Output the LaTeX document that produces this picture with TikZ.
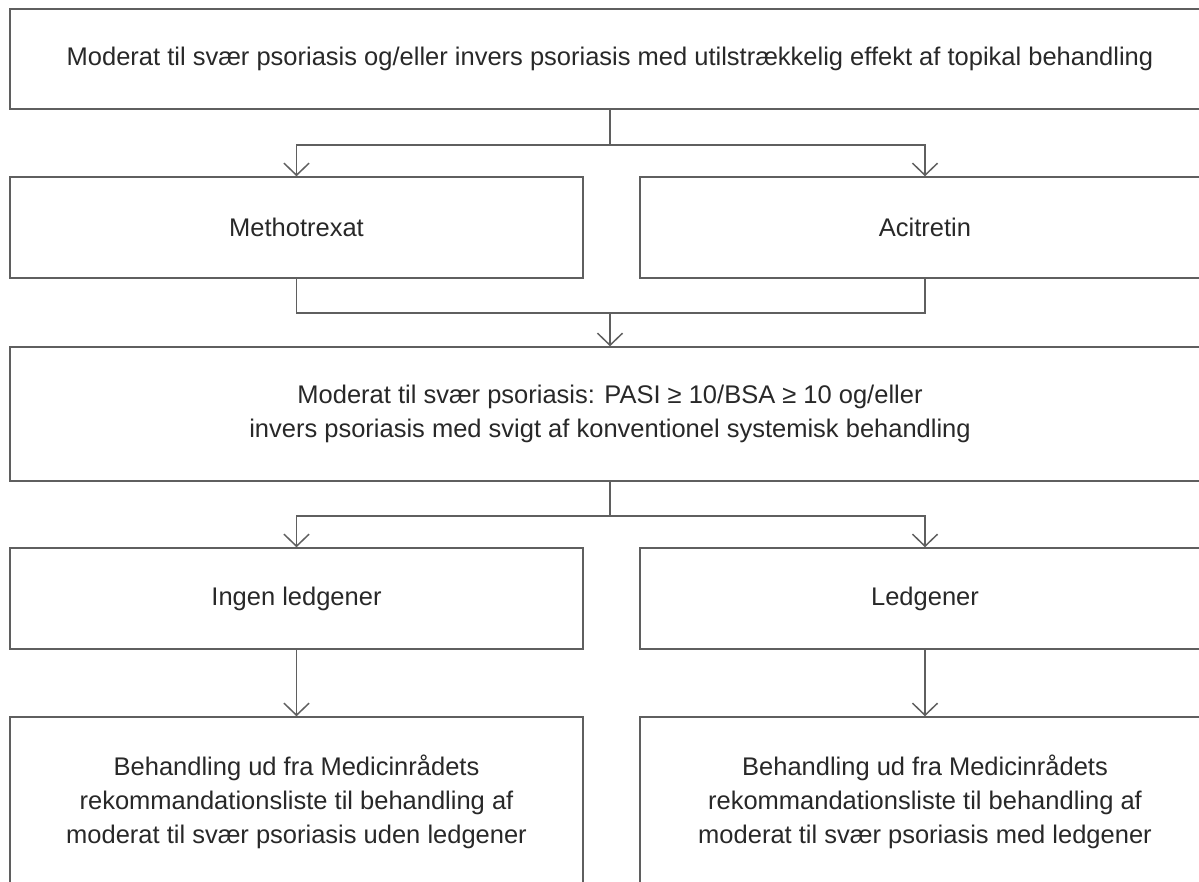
\documentclass[tikz,border=0pt]{standalone}
\usepackage{fontspec}
\setmainfont{Liberation Sans}
\usetikzlibrary{arrows.meta}
\definecolor{ln}{RGB}{95,95,95}
\definecolor{tx}{RGB}{40,40,40}
\tikzset{
  box/.style={draw=ln, line width=1.5pt, rectangle, inner sep=0pt, align=center,
    text=tx, font=\fontsize{25.5}{34}\selectfont},
  conn/.style={draw=ln, line width=1.5pt},
  arr/.style={conn, -{Straight Barb[length=12pt,width=25pt]}}
}
\begin{document}
\begin{tikzpicture}[x=1pt,y=-1pt]
\useasboundingbox (0,0) rectangle (1199,881);
\clip (0,0) rectangle (1199,881);
\node[box, minimum width=1200pt, minimum height=100pt] (top) at (610,59)
  {Moderat til svær psoriasis og/eller invers psoriasis med utilstrækkelig effekt af topikal behandling};
\node[box, minimum width=573pt, minimum height=101pt] (meth) at (296.5,227.5) {Methotrexat};
\node[box, minimum width=570pt, minimum height=101pt] (aci) at (925,227.5) {Acitretin};
\node[box, minimum width=1200pt, minimum height=134pt] (mid) at (610,414)
  {Moderat til svær psoriasis: PASI ≥ 10/BSA ≥ 10 og/eller\\invers psoriasis med svigt af konventionel systemisk behandling};
\node[box, minimum width=573pt, minimum height=101pt] (ingen) at (296.5,598.5) {Ingen ledgener};
\node[box, minimum width=570pt, minimum height=101pt] (led) at (925,598.5) {Ledgener};
\node[box, minimum width=573pt, minimum height=170pt] (bl) at (296.5,802)
  {Behandling ud fra Medicinrådets\\rekommandationsliste til behandling af\\moderat til svær psoriasis uden ledgener};
\node[box, minimum width=570pt, minimum height=170pt] (br) at (925,802)
  {Behandling ud fra Medicinrådets\\rekommandationsliste til behandling af\\moderat til svær psoriasis med ledgener};
% connectors
\coordinate (j1) at (610,145);
\draw[conn] (top.south) -- (j1);
\draw[arr] (j1) -| (meth.north);
\draw[arr] (j1) -| (aci.north);
\coordinate (j2) at (610,313);
\draw[conn] (meth.south) |- (j2) -| (aci.south);
\draw[arr] (j2) -- (mid.north);
\coordinate (j3) at (610,516);
\draw[conn] (mid.south) -- (j3);
\draw[arr] (j3) -| (ingen.north);
\draw[arr] (j3) -| (led.north);
\draw[arr] (ingen.south) -- (bl.north);
\draw[arr] (led.south) -- (br.north);
\end{tikzpicture}
\end{document}
